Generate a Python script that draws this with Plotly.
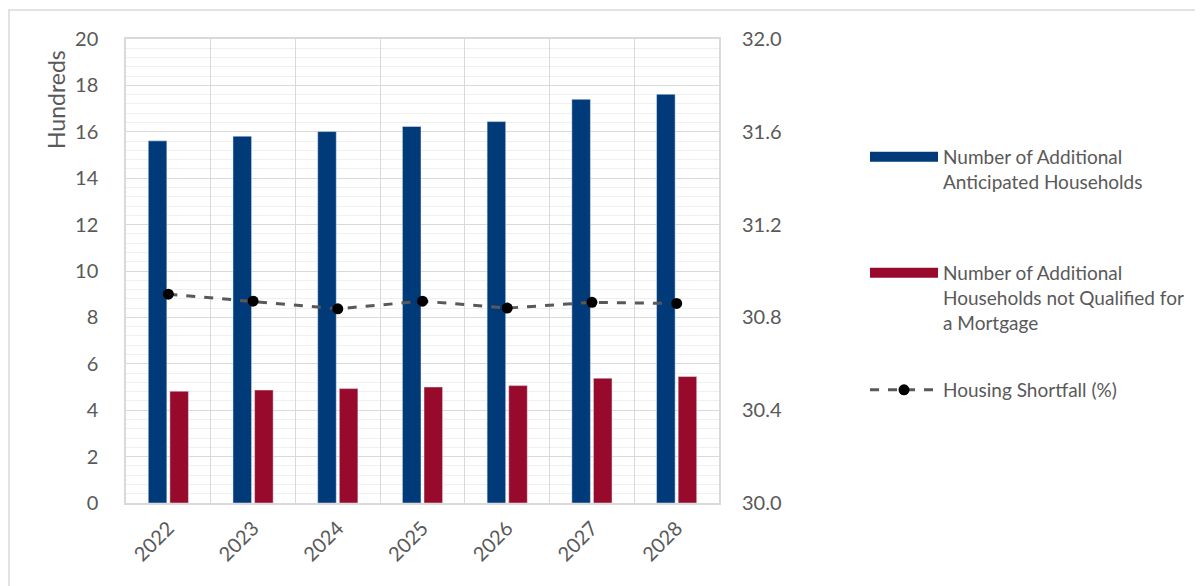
import plotly.graph_objects as go

years = ["2022", "2023", "2024", "2025", "2026", "2027", "2028"]
anticipated = [15.61, 15.81, 16.01, 16.23, 16.44, 17.40, 17.62]
not_qualified = [4.82, 4.87, 4.93, 5.00, 5.06, 5.38, 5.45]
shortfall = [30.90, 30.87, 30.837, 30.87, 30.84, 30.865, 30.86]

name_a = "Number of Additional<br>Anticipated Households"
name_b = "Number of Additional<br>Households not Qualified for<br>a Mortgage"
name_c = "Housing Shortfall (%)"

BLUE = "#003A78"
RED = "#970A2C"
GRAY = "#595959"
FONT = "Lato"

OFF = 8  # page body margin
W, H = 1203 - OFF, 586 - OFF
ML, MR, MT, MB = 126 - OFF, 484, 39 - OFF, 83
PW = W - ML - MR
PH = H - MT - MB


def px_x(p):
    return (p - OFF - ML) / PW


def px_y(p):
    return (H - MB - (p - OFF)) / PH


fig = go.Figure()
fig.add_trace(go.Bar(x=years, y=anticipated, name=name_a, marker_color=BLUE,
                     showlegend=False))
fig.add_trace(go.Bar(x=years, y=not_qualified, name=name_b, marker_color=RED,
                     showlegend=False))
fig.add_trace(go.Scatter(x=years, y=shortfall, name=name_c, yaxis="y2",
                         mode="lines+markers",
                         line=dict(color=GRAY, width=3, dash="dash"),
                         marker=dict(color="black", size=11),
                         legend="legend3"))
# legend proxies for bar series (wide swatches)
fig.add_trace(go.Scatter(x=[None], y=[None], mode="lines", name=name_a,
                         line=dict(color=BLUE, width=13), legend="legend"))
fig.add_trace(go.Scatter(x=[None], y=[None], mode="lines", name=name_b,
                         line=dict(color=RED, width=13), legend="legend2"))

leg_common = dict(font=dict(family=FONT, size=19, color=GRAY),
                  bgcolor="rgba(0,0,0,0)", itemwidth=68, valign="top",
                  xanchor="left", yanchor="top", tracegroupgap=0)

fig.update_layout(
    width=W, height=H,
    margin=dict(l=ML, r=MR, t=MT, b=MB),
    paper_bgcolor="white", plot_bgcolor="white",
    font=dict(family=FONT, color=GRAY),
    barmode="group", bargap=0.49, bargroupgap=0.14,
    showlegend=True,
    legend=dict(x=px_x(865), y=px_y(138), **leg_common),
    legend2=dict(x=px_x(865), y=px_y(254), **leg_common),
    legend3=dict(x=px_x(865), y=px_y(371), **leg_common),
    xaxis=dict(type="category", tickson="boundaries", showgrid=True,
               gridcolor="#D9D9D9", gridwidth=1.3, tickangle=-45,
               tickfont=dict(family=FONT, size=20, color=GRAY),
               showline=True, linecolor="#D9D9D9", linewidth=1.5, mirror=True,
               ticks="", ticklabelstandoff=4),
    yaxis=dict(range=[0, 20], dtick=2, showgrid=True, gridcolor="#D9D9D9",
               gridwidth=1.3, zeroline=False,
               minor=dict(dtick=0.4, showgrid=True, gridcolor="#F0F0F0",
                          gridwidth=1.3),
               tickfont=dict(family=FONT, size=20, color=GRAY),
               showline=True, linecolor="#D9D9D9", linewidth=1.5, mirror=True,
               ticks="", ticklabelstandoff=22),
    yaxis2=dict(range=[30, 32], dtick=0.4, tickformat=".1f", overlaying="y",
                side="right", showgrid=False, zeroline=False,
                tickfont=dict(family=FONT, size=20, color=GRAY),
                ticks="", ticklabelstandoff=22),
    annotations=[dict(text="Hundreds", textangle=-90, showarrow=False,
                      xref="paper", yref="paper", x=px_x(56), y=px_y(100),
                      xanchor="center", yanchor="middle",
                      font=dict(family=FONT, size=23, color=GRAY))],
    shapes=[dict(type="rect", xref="paper", yref="paper",
                 x0=px_x(9), y0=px_y(600), x1=px_x(1215), y1=px_y(10),
                 line=dict(color="#D9D9D9", width=1.5), layer="below")],
)

fig.write_html("out.html")
